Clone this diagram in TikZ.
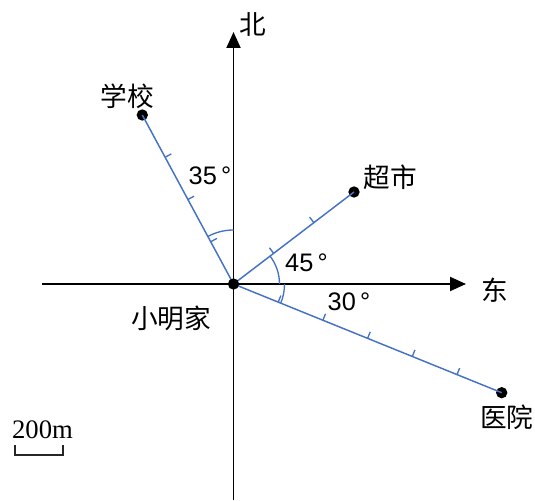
\documentclass[tikz,border=0pt]{standalone}
\usepackage{fontspec}
\newfontfamily\cjk{Noto Sans CJK SC}
\newfontfamily\numfont{Liberation Sans}
\newfontfamily\seriffont{Liberation Serif}
\usetikzlibrary{calc,arrows.meta}
\definecolor{lineblue}{RGB}{68,114,196}
\begin{document}
\begin{tikzpicture}[x=0.75pt,y=0.75pt,
  axis/.style={line width=1.4pt, black},
  ray/.style={line width=1.1pt, lineblue},
  tickmark/.style={line width=1pt, lineblue},
  dot/.style={circle, fill=black, inner sep=0pt, minimum size=8.5pt},
  place/.style={font=\cjk\fontsize{20}{20}\selectfont, inner sep=0pt},
  anglbl/.style={font=\numfont\fontsize{19}{19}\selectfont, inner sep=0pt},
  arrowtip/.style={-{Triangle[length=12pt,width=10.5pt]}},
]
\useasboundingbox (0,0) rectangle (535,500);
% axes
\coordinate (O) at (233.5,216);
\coordinate (Nend) at (233.5,468);
\coordinate (Send) at (233.5,0);
\coordinate (Wend) at (42,216);
\coordinate (Eend) at (466,216);
\draw[axis,arrowtip] (Send) -- (Nend);
\draw[axis,arrowtip] (Wend) -- (Eend);
% places
\node[dot] (school) at (142.3,385) {};
\node[dot] (market) at (354,308) {};
\node[dot] (hosp) at (501.7,107.3) {};
% rays
\draw[ray] (O) -- (school.center);
\draw[ray] (O) -- (market.center);
\draw[ray] (O) -- (hosp.center);
% ticks
\foreach \f in {0.25,0.5,0.75}{
  \path ($(O)!\f!(school.center)$) coordinate (t);
  \draw[tickmark] (t) -- ($(t)!5.25pt!-90:(school.center)$);
}
\foreach \f in {0.3333,0.6667}{
  \path ($(O)!\f!(market.center)$) coordinate (t);
  \draw[tickmark] (t) -- ($(t)!5.25pt!90:(market.center)$);
}
\foreach \f in {0.16667,0.33333,0.5,0.66667,0.83333}{
  \path ($(O)!\f!(hosp.center)$) coordinate (t);
  \draw[tickmark] (t) -- ($(t)!5.25pt!90:(hosp.center)$);
}
% angle arcs
\draw[tickmark] ($(O)+(90:54)$) arc[start angle=90,end angle=118.4,radius=54];
\draw[tickmark] ($(O)+(0:46)$) arc[start angle=0,end angle=37.4,radius=46];
\draw[tickmark] ($(O)+(0:51)$) arc[start angle=0,end angle=-21.95,radius=51];
% home dot
\node[dot] (home) at (O) {};
% labels
\node[place] (lschool) at (127,403.5) {学校};
\node[place] (lmarket) at (390,323) {超市};
\node[place] (lhosp) at (506.7,82.5) {医院};
\node[place] (lhome) at (171,182) {小明家};
\node[place] (lnorth) at (253,476) {北};
\node[place] (least) at (495,209.5) {东};
\node[anglbl] (a35) at (210,324) {35\,°};
\node[anglbl] (a45) at (306.5,237) {45\,°};
\node[anglbl] (a30) at (349,198.3) {30\,°};
% scale
\node[font=\seriffont\fontsize{20}{20}\selectfont, inner sep=0pt, anchor=base] (scalelbl) at (42.5,62) {200m};
\coordinate (b1) at (15,55);
\coordinate (b2) at (15,45);
\coordinate (b3) at (63,45);
\coordinate (b4) at (63,55);
\draw[line width=1pt, black!85] (b1) -- (b2) -- (b3) -- (b4);
\end{tikzpicture}
\end{document}
